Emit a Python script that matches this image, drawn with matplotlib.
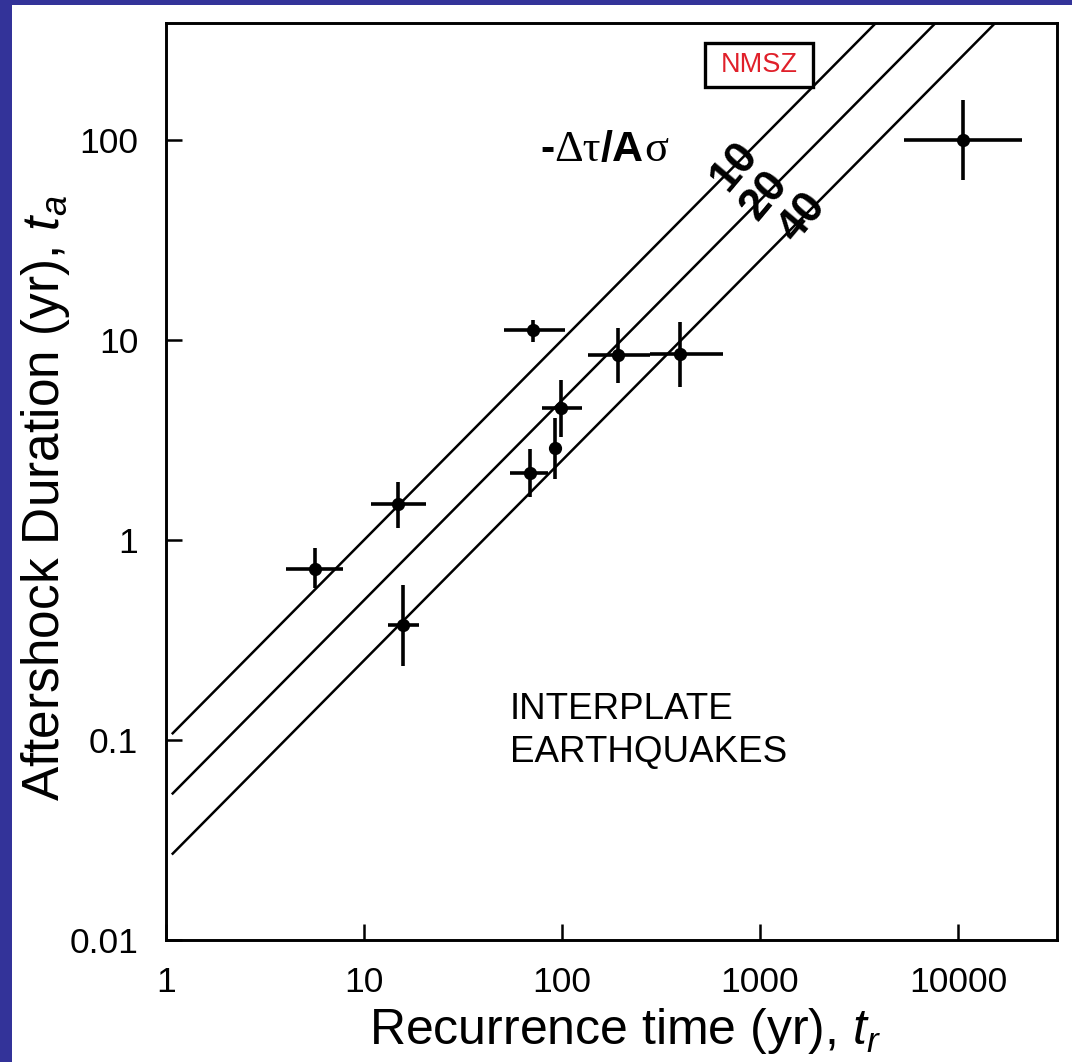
import numpy as np
import matplotlib
matplotlib.use("Agg")
import matplotlib.pyplot as plt
from matplotlib.patches import Rectangle

plt.rcParams['font.family'] = ['Liberation Sans', 'DejaVu Sans']
plt.rcParams['mathtext.fontset'] = 'custom'
plt.rcParams['mathtext.rm'] = 'Liberation Sans'
plt.rcParams['mathtext.it'] = 'Liberation Sans:italic'

# ---- data ----
recurrence = [5.66, 14.9, 15.7, 71.4, 192, 98.9, 92.2, 68.9, 394, 10600]
duration = [0.72, 1.51, 0.376, 11.2, 8.4, 4.57, 2.88, 2.16, 8.5, 100]
rec_low = [4.04, 10.8, 13.2, 50.9, 135, 79.3, 92.2, 54.6, 278, 5340]
rec_high = [7.83, 20.6, 19.0, 104, 278, 126, 92.2, 85.0, 650, 21000]
dur_low = [0.575, 1.15, 0.234, 9.8, 6.1, 3.27, 2.02, 1.64, 5.8, 63]
dur_high = [0.91, 1.95, 0.596, 12.6, 11.5, 6.3, 4.07, 2.85, 12.3, 158]

stress_ratios = [10, 20, 40]          # -Δτ/Aσ, t_a = t_r / ratio
ratio_labels = ["10", "20", "40"]
label_tr = [740, 1060, 1640]          # where labels sit along lines
line_tr = [1.07, 1.0e5]

xticks = [1, 10, 100, 1000, 10000]
xticklabels = ["1", "10", "100", "1000", "10000"]
yticks = [0.01, 0.1, 1, 10, 100]
yticklabels = ["0.01", "0.1", "1", "10", "100"]

W, H = 1072, 1062
fig = plt.figure(figsize=(W / 100, H / 100), dpi=100)
fig.patch.set_facecolor('#333399')
bg = Rectangle((12 / W, 0), 1 - 12 / W, 1 - 5 / H,
               transform=fig.transFigure, facecolor='white',
               edgecolor='none', zorder=-10)
fig.add_artist(bg)

ax = fig.add_axes([166 / W, 122 / H, 891 / W, 917 / H])
ax.set_facecolor('white')
ax.set_xscale('log')
ax.set_yscale('log')
ax.set_xlim(1, 31600)
ax.set_ylim(0.01, 385)

for s in ax.spines.values():
    s.set_linewidth(2.1)

ax.set_xticks(xticks)
ax.set_xticklabels(xticklabels)
ax.set_yticks(yticks)
ax.set_yticklabels(yticklabels)
ax.minorticks_off()
ax.tick_params(axis='both', which='major', direction='in', length=11.5,
               width=1.8, labelsize=25.5)
ax.tick_params(axis='x', pad=19)
ax.tick_params(axis='y', pad=20)

# model lines
tr_arr = np.array(line_tr)
for k in stress_ratios:
    ax.plot(tr_arr, tr_arr / k, color='black', lw=1.8, solid_capstyle='butt')

for k, lab, x in zip(stress_ratios, ratio_labels, label_tr):
    ax.text(x, x / k, lab, rotation=50, rotation_mode='anchor',
            ha='center', va='center', fontsize=32, fontweight='bold')

# data with error bars
tr = np.array(recurrence)
ta = np.array(duration)
xerr = np.vstack([tr - np.array(rec_low), np.array(rec_high) - tr])
yerr = np.vstack([ta - np.array(dur_low), np.array(dur_high) - ta])
ax.errorbar(tr, ta, xerr=xerr, yerr=yerr, fmt='o', color='black',
            markersize=8.5, elinewidth=2.6, capsize=0, zorder=5)

# -Δτ/Aσ label
t1 = ax.text(0.42, 0.8495, "-", transform=ax.transAxes, fontsize=31,
             fontweight='bold', ha='left', va='baseline')
t2 = ax.annotate("Δτ", xy=(1, 0), xycoords=t1, fontsize=32,
                 family='Liberation Serif', ha='left', va='bottom')
t3 = ax.annotate("/A", xy=(1, 0), xycoords=t2, fontsize=31,
                 fontweight='bold', ha='left', va='bottom')
t4 = ax.annotate("σ", xy=(1, 0), xycoords=t3, fontsize=32,
                 family='Liberation Serif', ha='left', va='bottom')

# NMSZ box
ax.add_patch(Rectangle((0.605, 0.930), 0.121, 0.048, transform=ax.transAxes,
                       facecolor='white', edgecolor='black', lw=2.4,
                       zorder=6))
ax.text(0.6655, 0.954, "NMSZ", transform=ax.transAxes, fontsize=19.5,
        color='#e0202a', ha='center', va='center', zorder=7)

ax.text(0.386, 0.228, "INTERPLATE\nEARTHQUAKES", transform=ax.transAxes,
        fontsize=26.5, ha='left', va='center', linespacing=1.3)

ax.set_xlabel("Recurrence time (yr), $t_r$", fontsize=36)
ax.xaxis.set_label_coords(0.515, -0.072)
ax.set_ylabel("Aftershock Duration (yr), $t_a$", fontsize=37)
ax.yaxis.set_label_coords(-0.106, 0.482)

fig.savefig("out.png", dpi=100, facecolor=fig.get_facecolor())
